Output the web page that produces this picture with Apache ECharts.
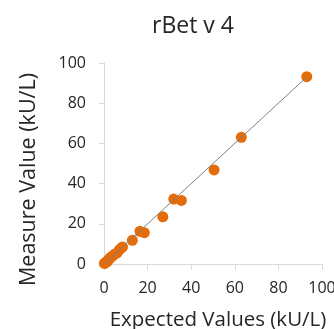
<!DOCTYPE html>
<html>
<head>
<meta charset="utf-8">
<script src="https://cdn.jsdelivr.net/npm/echarts@6/dist/echarts.min.js"></script>
<style>html,body{margin:0;padding:0;background:#fff}#c{width:334px;height:329px}</style>
</head>
<body>
<div id="c"></div>
<script>
var titleText = 'rBet v 4';
var xName = 'Expected Values (kU/L)';
var yName = 'Measure Value (kU/L)';
var expectedValues = [0.2, 0.5, 1, 1.5, 2, 2.5, 3, 4, 5, 6, 7, 8, 8.5, 13, 16.5, 18.5, 27, 32, 35.5, 50.5, 63, 93];
var measuredValues = [0.3, 0.5, 1, 1.2, 2, 2.7, 3.2, 4, 5, 5.5, 7, 8, 8.5, 11.8, 16.3, 15.6, 23.5, 32.3, 31.6, 46.8, 63, 93.2];
var trendX = [0, 93];
var trendY = [0, 93];
var axisTicks = [0, 20, 40, 60, 80, 100];

var font = 'Open Sans';
var chart = echarts.init(document.getElementById('c'));
var pts = expectedValues.map(function (x, i) { return [x, measuredValues[i]]; });
var line = trendX.map(function (x, i) { return [x, trendY[i]]; });
chart.setOption({
  animation: false,
  title: {
    text: titleText, left: 147, top: 10,
    textStyle: { fontFamily: font, fontSize: 23, fontWeight: 'normal', color: '#262626' }
  },
  grid: { left: 104, right: 12, top: 63, bottom: 65, containLabel: false, outerBoundsMode: 'none' },
  xAxis: {
    type: 'value', min: axisTicks[0], max: axisTicks[axisTicks.length - 1], interval: 20,
    splitLine: { show: false },
    axisLine: { lineStyle: { color: '#d9d9d9' } },
    axisTick: { show: true, length: 6, lineStyle: { color: '#d9d9d9' } },
    axisLabel: { fontFamily: font, fontSize: 16, color: '#262626', margin: 16 },
    name: xName, nameLocation: 'middle', nameGap: 46,
    nameTextStyle: { fontFamily: font, fontSize: 20.5, color: '#262626', padding: [0, 0, 0, 10] }
  },
  yAxis: {
    type: 'value', min: axisTicks[0], max: axisTicks[axisTicks.length - 1], interval: 20,
    splitLine: { show: false },
    axisLine: { show: true, lineStyle: { color: '#d9d9d9' } },
    axisTick: { show: true, length: 5, lineStyle: { color: '#d9d9d9' } },
    axisLabel: { fontFamily: font, fontSize: 16, color: '#262626', margin: 18 }
  },
  graphic: [{
    type: 'text', left: 18, top: 73, rotation: Math.PI / 2,
    style: { text: yName, fontFamily: font, fontSize: 21.5, fill: '#262626' }
  }],
  series: [{
    type: 'line', data: line, symbol: 'none', z: 3,
    lineStyle: { color: '#808080', width: 1 }
  }, {
    type: 'scatter', data: pts, symbolSize: 11, z: 2,
    itemStyle: { color: '#E46C0A', opacity: 1 }
  }]
});
</script>
</body>
</html>
